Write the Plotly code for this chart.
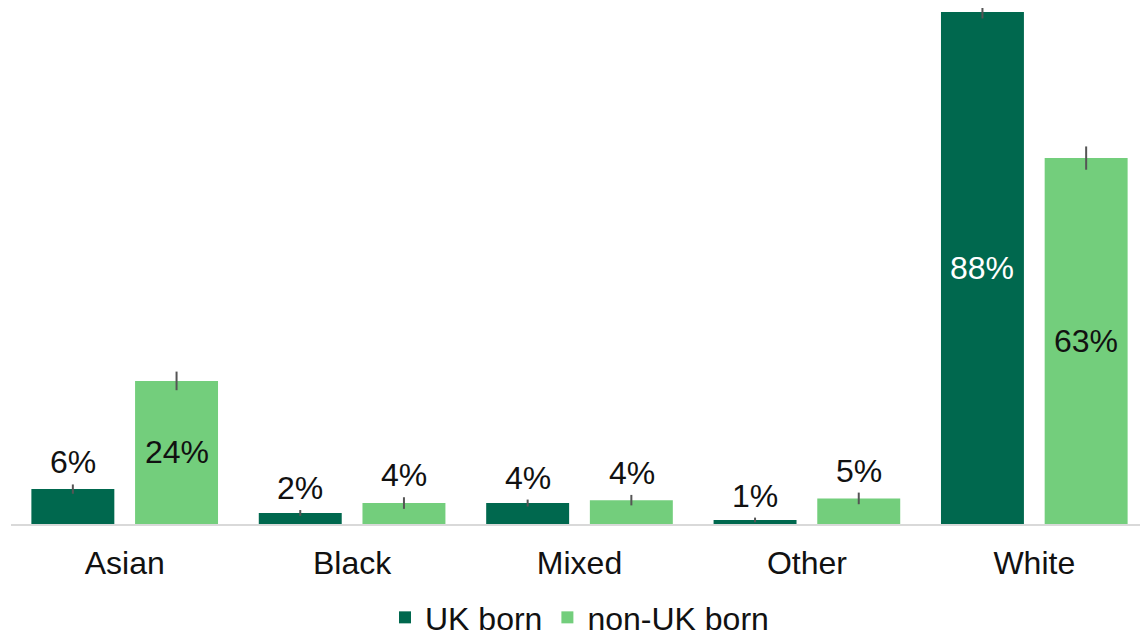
import plotly.graph_objects as go

# Data
categories = ["Asian", "Black", "Mixed", "Other", "White"]
uk_born = [6.0, 1.9, 3.6, 0.7, 88.0]
non_uk_born = [24.6, 3.6, 4.1, 4.4, 62.9]
uk_err = [0.8, 0.5, 0.6, 0.4, 1.1]
non_uk_err = [1.6, 1.0, 0.9, 1.0, 2.0]
uk_labels = ["6%", "2%", "4%", "1%", "88%"]
non_uk_labels = ["24%", "4%", "4%", "5%", "63%"]

dark_green = "#00684E"
light_green = "#73CE7C"
font = "Liberation Sans, Arial, sans-serif"

fig = go.Figure()
fig.add_trace(go.Bar(
    x=categories, y=uk_born, name="UK born", marker_color=dark_green,
    marker_line_width=0,
    error_y=dict(type="data", array=uk_err, color="#555555", thickness=2, width=0),
))
fig.add_trace(go.Bar(
    x=categories, y=non_uk_born, name="non-UK born", marker_color=light_green,
    marker_line_width=0,
    error_y=dict(type="data", array=non_uk_err, color="#555555", thickness=2, width=0),
))

# value labels: inside the tall bars, above the error bar for short ones
annotations = []
for offset, vals, errs, labels, inside_color in [
    (-1, uk_born, uk_err, uk_labels, "white"),
    (1, non_uk_born, non_uk_err, non_uk_labels, "#111111"),
]:
    for i, (v, e, lab) in enumerate(zip(vals, errs, labels)):
        if v > 15:
            annotations.append(dict(
                x=categories[i], y=v / 2, text=lab, showarrow=False,
                xshift=offset * 52, font=dict(size=32, color=inside_color, family=font),
            ))
        else:
            annotations.append(dict(
                x=categories[i], y=v + e, text=lab, showarrow=False, yanchor="bottom",
                xshift=offset * 52, yshift=2, font=dict(size=32, color="#111111", family=font),
            ))

# page body adds an 8px offset, so the figure is sized 8px smaller
fig.update_layout(
    width=1140, height=628,
    margin=dict(l=3, r=0, t=0, b=112, autoexpand=False),
    paper_bgcolor="white", plot_bgcolor="white",
    barmode="group", bargap=0.088, bargroupgap=0.2,
    font=dict(family=font, size=32, color="#111111"),
    showlegend=True,
    legend=dict(orientation="h", x=0.5, xanchor="center", y=-0.128, yanchor="top",
                font=dict(size=32), itemwidth=30, traceorder="normal"),
    annotations=annotations,
    xaxis=dict(showline=True, linecolor="#d9d9d9", linewidth=1.5, ticks="",
               tickfont=dict(size=32), ticklabelstandoff=10, automargin=False),
    yaxis=dict(range=[0, 88.7], visible=False, showgrid=False, zeroline=False),
)

fig.write_html("out.html")
